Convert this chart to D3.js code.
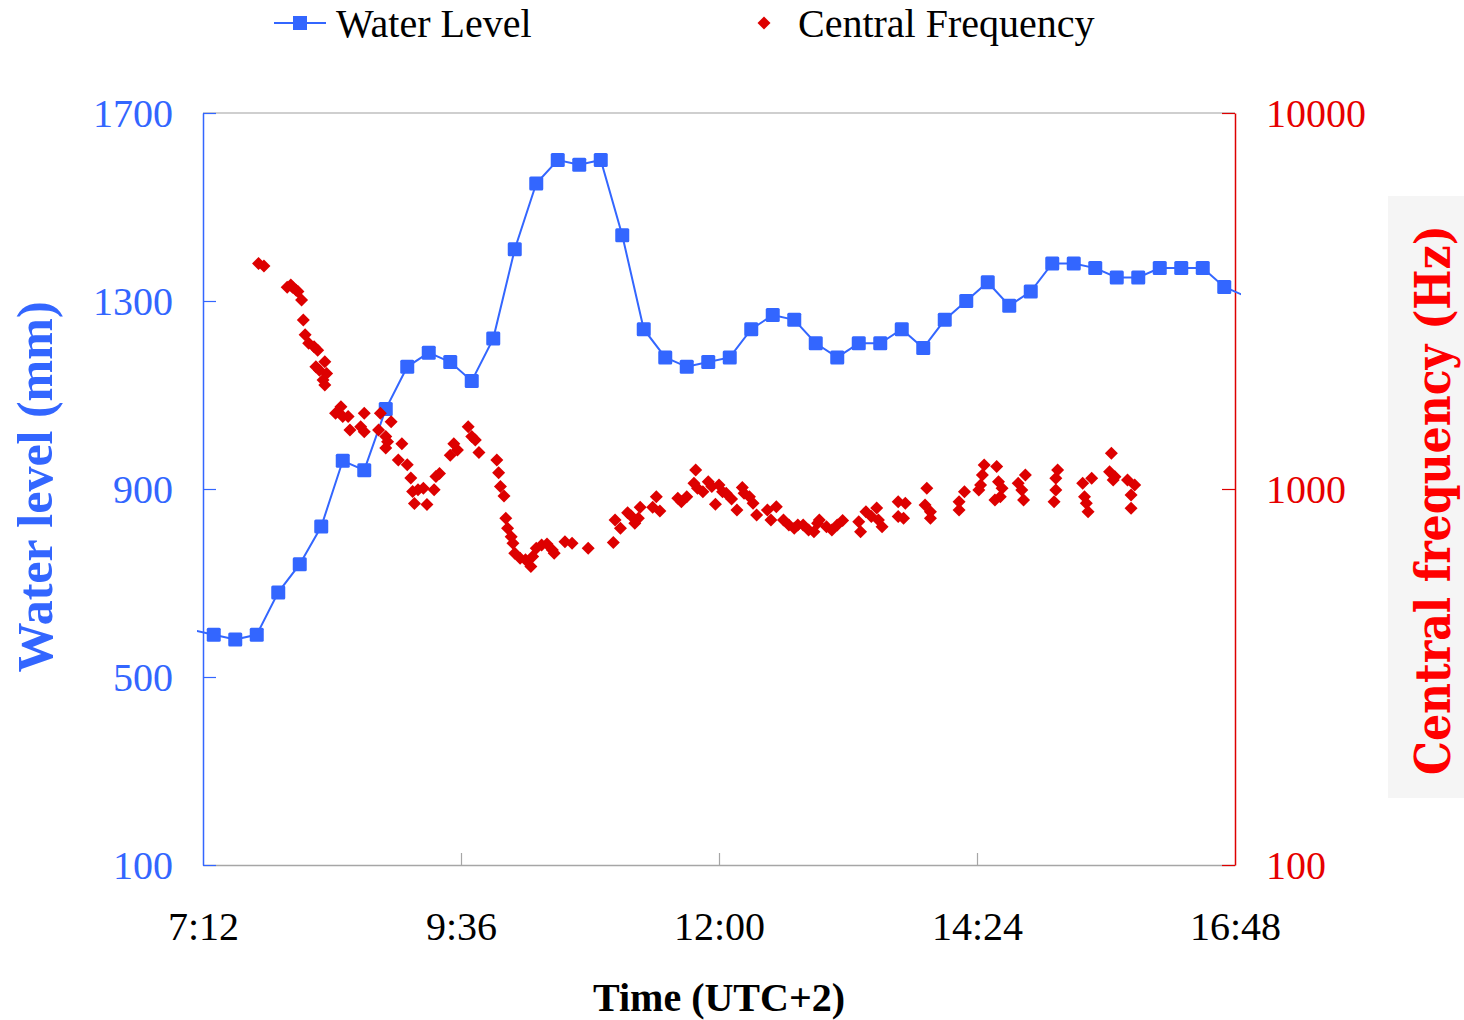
<!DOCTYPE html>
<html><head><meta charset="utf-8">
<script src="https://cdn.jsdelivr.net/npm/d3@7"></script>
<style>body{margin:0;background:#fff} svg{display:block}</style>
</head><body><svg id="c" width="1464" height="1020"></svg>
<script>
// ---- data ----
const waterTimes = ["7:06","7:18","7:30","7:42","7:54","8:06","8:18","8:30","8:42","8:54","9:06","9:18","9:30","9:42","9:54",
 "10:06","10:18","10:30","10:42","10:54","11:06","11:18","11:30","11:42","11:54","12:06","12:18","12:30","12:42","12:54",
 "13:06","13:18","13:30","13:42","13:54","14:06","14:18","14:30","14:42","14:54","15:06","15:18","15:30","15:42","15:54",
 "16:06","16:18","16:30","16:42","16:54"];
const waterLevels = [600,590,580,590,680,740,820,960,940,1070,1160,1190,1170,1130,1220,
 1410,1550,1600,1590,1600,1440,1240,1180,1160,1170,1180,1240,1270,1260,1210,
 1180,1210,1210,1240,1200,1260,1300,1340,1290,1320,1380,1380,1370,1350,1350,
 1370,1370,1370,1330,1310];

const freqTimes = ["7:43","7:46","7:59","8:01","8:02","8:04","8:05","8:07","8:08","8:09","8:11","8:14","8:16","8:15","8:17",
 "8:20","8:21","8:19","8:20","8:26","8:29","8:30","8:33","8:34","8:40","8:42","8:42","8:50","8:51","8:54",
 "8:55","8:57","8:54","9:01","9:03","9:06","9:08","9:09","9:10","9:12","9:15","9:17","9:21","9:22","9:24",
 "9:30","9:32","9:34","9:40","9:42","9:44","9:46","9:56","9:57","9:58","10:00","10:01","10:02","10:04","10:05",
 "10:06","10:09","10:12","10:15","10:16","10:18","10:21","10:24","10:27","10:28","10:34","10:38","10:47","11:01","11:02",
 "11:05","11:09","11:11","11:13","11:15","11:16","11:23","11:25","11:27","11:37","11:39","11:42","11:46","11:47","11:48",
 "11:51","11:54","11:56","11:58","12:00","12:02","12:04","12:07","12:10","12:13","12:14","12:17","12:19","12:21","12:27",
 "12:29","12:32","12:36","12:39","12:42","12:44","12:47","12:50","12:53","12:55","12:56","13:00","13:03","13:06","13:09",
 "13:18","13:19","13:22","13:25","13:28","13:29","13:31","13:40","13:40","13:44","13:43","13:56","13:55","13:58","13:58",
 "14:14","14:14","14:17","14:25","14:26","14:27","14:28","14:34","14:35","14:36","14:37","14:38","14:47","14:49","14:50",
 "14:51","15:07","15:08","15:08","15:09","15:23","15:24","15:26","15:25","15:28","15:38","15:39","15:41","15:40","15:48",
 "15:52","15:50","15:50"];
const freqValues = [3980,3920,3440,3490,3440,3380,3350,3180,2815,2570,2440,2390,2340,2115,2070,
 2180,2030,1950,1890,1590,1655,1560,1560,1435,1465,1590,1420,1435,1590,1380,
 1335,1510,1285,1195,1320,1160,1070,985,915,995,1005,910,995,1080,1100,
 1230,1320,1270,1465,1380,1350,1250,1195,1105,1015,958,836,786,747,717,
 675,654,648,622,661,696,710,714,688,675,724,717,696,721,827,
 786,865,848,811,836,894,894,954,874,945,925,954,1036,1123,1004,
 984,1046,1015,911,1025,984,975,940,879,1010,975,954,916,853,879,
 827,897,827,802,786,802,802,778,770,811,827,794,778,802,824,
 818,770,870,845,890,827,794,925,845,916,836,1004,907,870,836,
 925,879,984,994,1025,1089,1158,935,1147,1046,954,1004,1036,994,935,
 1089,925,1068,994,1123,1036,954,870,916,1068,1112,1245,1078,1057,1057,
 1025,964,889];

const leftTicks = [100,500,900,1300,1700];
const rightTicks = [100,1000,10000];
const timeTicks = ["7:12","9:36","12:00","14:24","16:48"];

// ---- helpers ----
const toMin = s => { const [h,m] = s.split(":").map(Number); return h*60+m; };
const BLUE = "#3366ff", RED = "#dd0000", SERIF = "'Liberation Serif','Times New Roman',serif";

const svg = d3.select("#c");
const L = 203, R = 1235, T = 113, B = 865;

const x = d3.scaleLinear().domain([toMin(timeTicks[0]), toMin(timeTicks[timeTicks.length-1])]).range([L, R]);
const yL = d3.scaleLinear().domain([100, 1700]).range([B, T]);
const yR = d3.scaleLog().domain([100, 10000]).range([B, T]);

// right title background
svg.append("rect").attr("x",1388).attr("y",196).attr("width",76).attr("height",602).attr("fill","#f5f5f5");

// top frame line
svg.append("line").attr("x1",L).attr("x2",R).attr("y1",T).attr("y2",T).attr("stroke","#bfbfbf").attr("stroke-width",1.5);

// bottom axis
const xAxis = d3.axisBottom(x).tickValues(timeTicks.map(toMin)).tickSize(0).tickFormat((d,i)=>timeTicks[i]);
const gx = svg.append("g").attr("transform",`translate(0,${B})`).call(xAxis);
gx.select(".domain").attr("stroke","#a6a6a6").attr("stroke-width",1.5);
gx.selectAll(".tick text").attr("font-family",SERIF).attr("font-size",40).attr("fill","#000").attr("dy",0).attr("y",75);
gx.selectAll(".tick").filter((d,i)=>i>0 && i<timeTicks.length-1).append("line")
  .attr("y1",0).attr("y2",-12).attr("stroke","#a6a6a6").attr("stroke-width",1.2);

// left axis
const ayL = d3.axisLeft(yL).tickValues(leftTicks).tickSize(0).tickPadding(30).tickFormat(d3.format("d"));
const gl = svg.append("g").attr("transform",`translate(${L},0)`).call(ayL);
gl.select(".domain").attr("stroke",BLUE).attr("stroke-width",1.5);
gl.selectAll(".tick text").attr("font-family",SERIF).attr("font-size",40).attr("fill",BLUE).attr("dy","0.33em");
gl.selectAll(".tick").append("line").attr("x1",0).attr("x2",13).attr("stroke",BLUE).attr("stroke-width",1.2);

// right axis
const ayR = d3.axisRight(yR).tickValues(rightTicks).tickSize(0).tickPadding(31).tickFormat(d3.format("d"));
const gr = svg.append("g").attr("transform",`translate(${R},0)`).call(ayR);
gr.select(".domain").attr("stroke",RED).attr("stroke-width",1.5);
gr.selectAll(".tick text").attr("font-family",SERIF).attr("font-size",40).attr("fill","#e60000").attr("dy","0.33em");
gr.selectAll(".tick").append("line").attr("x1",0).attr("x2",-13).attr("stroke",RED).attr("stroke-width",1.2);

// water level line
const water = waterTimes.map((t,i)=>({t:toMin(t), v:waterLevels[i]}));
svg.append("clipPath").attr("id","wclip").append("rect").attr("x",L-6).attr("y",0).attr("width",R-L+12).attr("height",1020);
svg.append("path").datum(water).attr("clip-path","url(#wclip)")
  .attr("d", d3.line().x(d=>x(d.t)).y(d=>yL(d.v)))
  .attr("fill","none").attr("stroke",BLUE).attr("stroke-width",2);
const inDom = d => d.t >= x.domain()[0] && d.t <= x.domain()[1];
svg.append("g").selectAll("rect").data(water.filter(inDom)).join("rect")
  .attr("x",d=>x(d.t)-7).attr("y",d=>yL(d.v)-7).attr("width",14).attr("height",14).attr("rx",1.5)
  .attr("fill",BLUE);

// frequency scatter
const freq = freqTimes.map((t,i)=>({t:toMin(t), v:freqValues[i]}));
const diamond = (cx,cy,r) => `M${cx},${cy-r}L${cx+r},${cy}L${cx},${cy+r}L${cx-r},${cy}Z`;
svg.append("g").selectAll("path").data(freq).join("path")
  .attr("d",d=>diamond(x(d.t), yR(d.v), 6.5)).attr("fill",RED);

// legend
svg.append("line").attr("x1",274).attr("x2",326).attr("y1",23).attr("y2",23).attr("stroke",BLUE).attr("stroke-width",2);
svg.append("rect").attr("x",293).attr("y",16).attr("width",14).attr("height",14).attr("fill",BLUE);
svg.append("text").attr("x",336).attr("y",37).attr("font-family",SERIF).attr("font-size",40).text("Water Level");
svg.append("path").attr("d",diamond(764,23,6.5)).attr("fill",RED);
svg.append("text").attr("x",798).attr("y",37).attr("font-family",SERIF).attr("font-size",40).text("Central Frequency");

// axis titles
svg.append("text").attr("transform","translate(52,487) rotate(-90)").attr("text-anchor","middle")
  .attr("font-family",SERIF).attr("font-size",50).attr("font-weight","bold").attr("fill",BLUE).text("Water level (mm)");
svg.append("text").attr("x",(L+R)/2).attr("y",1011).attr("text-anchor","middle")
  .attr("font-family",SERIF).attr("font-size",40).attr("font-weight","bold").text("Time (UTC+2)");
svg.append("text").attr("transform","translate(1450,500) rotate(-90)").attr("text-anchor","middle")
  .attr("font-family","'DejaVu Serif',serif").attr("font-size",48).attr("font-weight","bold").attr("fill","#ff0000")
  .attr("textLength",550).attr("lengthAdjust","spacingAndGlyphs").text("Central frequency (Hz)");
</script></body></html>
